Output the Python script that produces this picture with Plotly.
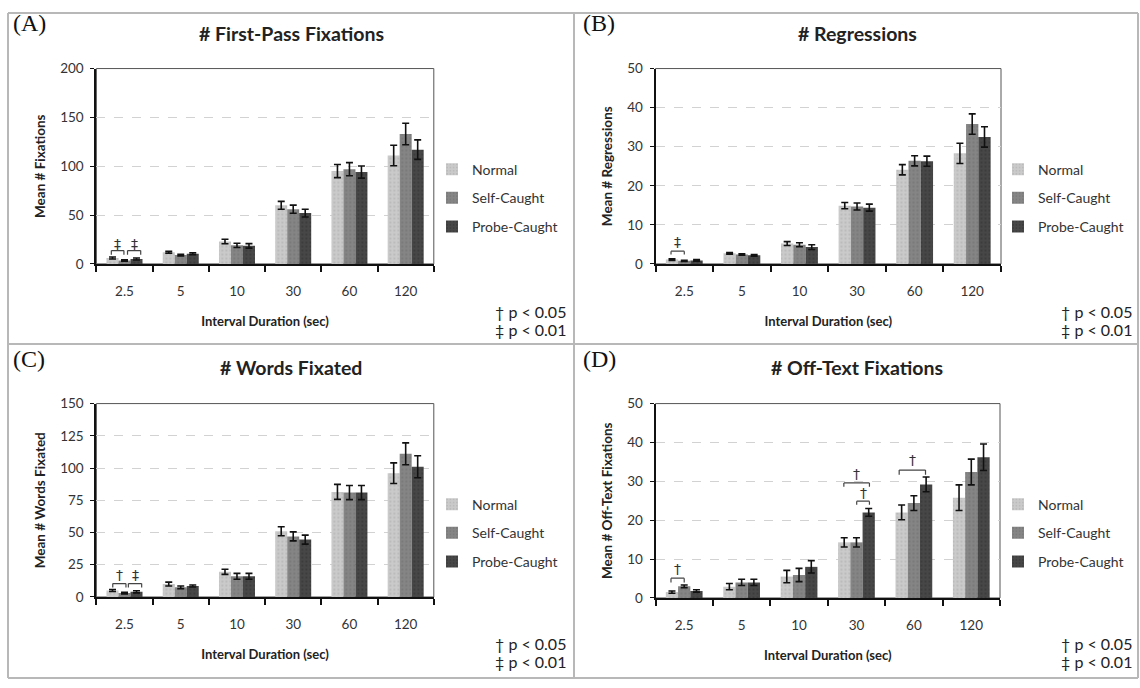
import plotly.graph_objects as go

# ---------------- data ----------------
categories = ["2.5", "5", "10", "30", "60", "120"]
series_names = ["Normal", "Self-Caught", "Probe-Caught"]

# (A) First-pass fixations
a_normal = [6, 12, 23, 60, 95, 111]
a_normal_err = [1, 1, 2.3, 4, 6.7, 10.5]
a_self = [3.5, 9, 19, 56, 97, 133]
a_self_err = [0.8, 0.8, 2.2, 4.2, 6.7, 11]
a_probe = [5, 10.5, 18.5, 52, 94, 117]
a_probe_err = [1, 1, 2.3, 4, 6.2, 10]

# (B) Regressions
b_normal = [1.1, 2.7, 5.2, 14.9, 24.1, 28.3]
b_normal_err = [0.2, 0.2, 0.5, 0.8, 1.3, 2.6]
b_self = [0.8, 2.4, 4.9, 14.7, 26.4, 35.8]
b_self_err = [0.15, 0.2, 0.5, 0.9, 1.3, 2.6]
b_probe = [0.9, 2.2, 4.3, 14.4, 26.3, 32.5]
b_probe_err = [0.2, 0.2, 0.6, 0.9, 1.3, 2.6]

# (C) Words fixated
c_normal = [5, 10, 19.5, 51, 81.5, 96]
c_normal_err = [0.8, 1.5, 2, 3.5, 5.8, 8]
c_self = [3, 7.5, 16, 47, 81, 111]
c_self_err = [0.6, 1, 2.3, 3.5, 5.5, 8.5]
c_probe = [4, 8.5, 16, 44.5, 81, 101]
c_probe_err = [0.8, 0.8, 2.3, 3.5, 5.5, 8.5]

# (D) Off-text fixations
d_normal = [1.5, 2.9, 5.5, 14.3, 22, 25.8]
d_normal_err = [0.3, 0.8, 1.6, 1.2, 1.9, 3.3]
d_self = [3.0, 4.0, 5.9, 14.3, 24.4, 32.4]
d_self_err = [0.35, 0.8, 1.7, 1.2, 1.9, 3.3]
d_probe = [1.8, 4.0, 8.0, 22.0, 29.2, 36.2]
d_probe_err = [0.3, 0.8, 1.6, 1.0, 1.9, 3.4]

# significance brackets: (category index, start slot, end slot, top, leg, label y, symbol)
a_sig = [(0, -1.1, -0.05, 13.7, 9.5, 20.5, "‡"), (0, 0.25, 1.35, 13.7, 9.5, 20.5, "‡")]
b_sig = [(0, -1.08, 0.0, 3.25, 2.4, 5.6, "‡")]
c_sig = [(0, -0.98, 0.12, 10.4, 7.4, 17.0, "†"), (0, 0.32, 1.43, 10.4, 7.4, 17.0, "‡")]
d_sig = [(0, -1.08, 0.0, 5.1, 4.0, 7.4, "†"), (3, -1.03, 1.06, 29.6, 28.6, 31.9, "†"),
         (3, 0.02, 1.06, 24.9, 24.0, 26.9, "†"), (4, -1.2, 0.95, 32.9, 31.7, 35.5, "†")]

panel_letters = ["(A)", "(B)", "(C)", "(D)"]
panel_titles = ["# First-Pass Fixations", "# Regressions", "# Words Fixated", "# Off-Text Fixations"]
y_titles = ["Mean # Fixations", "Mean # Regressions", "Mean # Words Fixated", "Mean # Off-Text Fixations"]
x_title = "Interval Duration (sec)"
y_ranges = [200, 50, 150, 50]
y_dticks = [50, 10, 25, 10]
foot_05 = "† p < 0.05"
foot_01 = "‡ p < 0.01"

# ---------------- style ----------------
W, H = 1140, 688
def PX(x): return x / W
def PY(y): return 1 - y / H

bar_colors = ["#cacaca", "#858585", "#474747"]
dot_colors = ["#a9a9a9", "#6b6b6b", "#2f2f2f"]
FONT = "Lato"
BARGAP = 0.36
slot = (1 - BARGAP) / 3

panels = [
    dict(vals=[(a_normal, a_normal_err), (a_self, a_self_err), (a_probe, a_probe_err)], sig=a_sig,
         xd=(96.4, 433.8), yd=(62, 262), left=0),
    dict(vals=[(b_normal, b_normal_err), (b_self, b_self_err), (b_probe, b_probe_err)], sig=b_sig,
         xd=(655.5, 1001), yd=(62, 262), left=570),
    dict(vals=[(c_normal, c_normal_err), (c_self, c_self_err), (c_probe, c_probe_err)], sig=c_sig,
         xd=(96.4, 433.8), yd=(405, 603), left=0),
    dict(vals=[(d_normal, d_normal_err), (d_self, d_self_err), (d_probe, d_probe_err)], sig=d_sig,
         xd=(655.5, 1000), yd=(405, 604), left=570),
]

fig = go.Figure()
annotations = []
shapes = []
layout = {}

for p, pan in enumerate(panels):
    n = "" if p == 0 else str(p + 1)
    xa, ya = "x" + n, "y" + n
    leg = "legend" + n
    for s, (vals, errs) in enumerate(pan["vals"]):
        fig.add_trace(go.Bar(
            x=categories, y=vals, name=series_names[s],
            xaxis=xa, yaxis=ya, legend=leg, legendgroup=f"{p}{s}",
            marker=dict(color=bar_colors[s], line=dict(width=0),
                        pattern=dict(shape=".", fgcolor=dot_colors[s], bgcolor=bar_colors[s],
                                     size=4, solidity=0.25)),
            error_y=dict(type="data", array=errs, color="#111111", thickness=1.6, width=3.5),
        ))
    x0, x1 = pan["xd"]
    y0, y1 = pan["yd"]
    layout["xaxis" + n] = dict(
        domain=[PX(x0), PX(x1)], anchor=ya, type="category",
        showline=True, linecolor="#111111", linewidth=2,
        ticks="outside", tickson="boundaries", ticklen=6, tickwidth=1.5, tickcolor="#111111",
        tickfont=dict(family=FONT, size=13.5, color="#333333"), ticklabelstandoff=14,
        showgrid=False, zeroline=False,
        title=dict(text=x_title, font=dict(family=FONT, size=13, color="#222222", weight="bold"), standoff=19),
    )
    layout["yaxis" + n] = dict(
        domain=[PY(y1), PY(y0)], anchor=xa, range=[0, y_ranges[p]], dtick=y_dticks[p],
        showline=True, linecolor="#111111", linewidth=2,
        ticks="outside", ticklen=4, tickwidth=1.2, tickcolor="#111111",
        tickfont=dict(family=FONT, size=13.5, color="#333333"), ticklabelstandoff=4,
        showgrid=True, gridcolor="#d2d2d2", griddash="dash", gridwidth=1, zeroline=False,
        title=dict(text=y_titles[p], font=dict(family=FONT, size=13.5, color="#222222", weight="bold"), standoff=11),
    )
    # plot area frame (top / right)
    shapes.append(dict(type="rect", xref=xa + " domain", yref=ya + " domain", x0=0, x1=1, y0=0, y1=1,
                       line=dict(color="#555555", width=1), layer="below"))
    # significance brackets
    for (ci, s0, s1, top, legy, ty, sym) in pan["sig"]:
        xs = ci + s0 * slot
        xe = ci + s1 * slot
        for (ax0, ay0, ax1, ay1) in [(xs, legy, xs, top), (xs, top, xe, top), (xe, top, xe, legy)]:
            shapes.append(dict(type="line", xref=xa, yref=ya, x0=ax0, y0=ay0, x1=ax1, y1=ay1,
                               line=dict(color="#444444", width=1.2)))
        annotations.append(dict(text=sym, xref=xa, yref=ya, x=(xs + xe) / 2, y=ty, showarrow=False,
                                font=dict(family="DejaVu Sans", size=14, color="#333333"), yanchor="middle"))
    left = pan["left"]
    top_y = 0 if p < 2 else 344
    # panel letter
    annotations.append(dict(text=panel_letters[p], xref="paper", yref="paper",
                            x=PX(left + 11), y=PY(top_y + 15), xanchor="left", yanchor="middle",
                            showarrow=False, font=dict(family="Liberation Serif", size=24, color="#111111")))
    # panel title
    annotations.append(dict(text=panel_titles[p], xref="paper", yref="paper",
                            x=PX(left + (291 if p % 2 == 0 else 287)), y=PY(top_y + (26 if p < 2 else 24)),
                            xanchor="center", yanchor="middle", showarrow=False,
                            font=dict(family=FONT, size=19.5, color="#222222", weight="bold")))
    # footnotes
    for k, txt in enumerate([foot_05, foot_01]):
        annotations.append(dict(text=txt, xref="paper", yref="paper",
                                x=PX(left + 493 - (4 if p % 2 else 0)), y=PY(top_y + (311 if p < 2 else 307) + 18 * k),
                                xanchor="left", yanchor="middle", showarrow=False,
                                font=dict(family=FONT, size=16, color="#222222")))
    # legend
    layout[leg] = dict(x=PX(left + (432 if p % 2 == 0 else 428)), y=PY(top_y + (149 if p < 2 else 148)),
                       xanchor="left", yanchor="top", bgcolor="rgba(0,0,0,0)",
                       font=dict(family=FONT, size=14, color="#333333"),
                       traceorder="grouped", tracegroupgap=7.5, itemclick=False)

# panel separators / outer frame
for (sx0, sy0, sx1, sy1) in [(8, 5, 1138, 5), (8, 686, 1138, 686), (8, 5, 8, 686), (1138, 5, 1138, 686),
                             (574, 5, 574, 686), (8, 344, 1138, 344)]:
    shapes.append(dict(type="line", xref="paper", yref="paper", x0=PX(sx0), y0=PY(sy0), x1=PX(sx1), y1=PY(sy1),
                       line=dict(color="#b8b8b8", width=2)))

fig.update_layout(
    width=W, height=H, margin=dict(l=0, r=0, t=0, b=0),
    paper_bgcolor="white", plot_bgcolor="white",
    barmode="group", bargap=BARGAP, bargroupgap=0,
    showlegend=True, annotations=annotations, shapes=shapes,
    font=dict(family=FONT, color="#222222"),
    **layout,
)

fig.write_html("out.html")
